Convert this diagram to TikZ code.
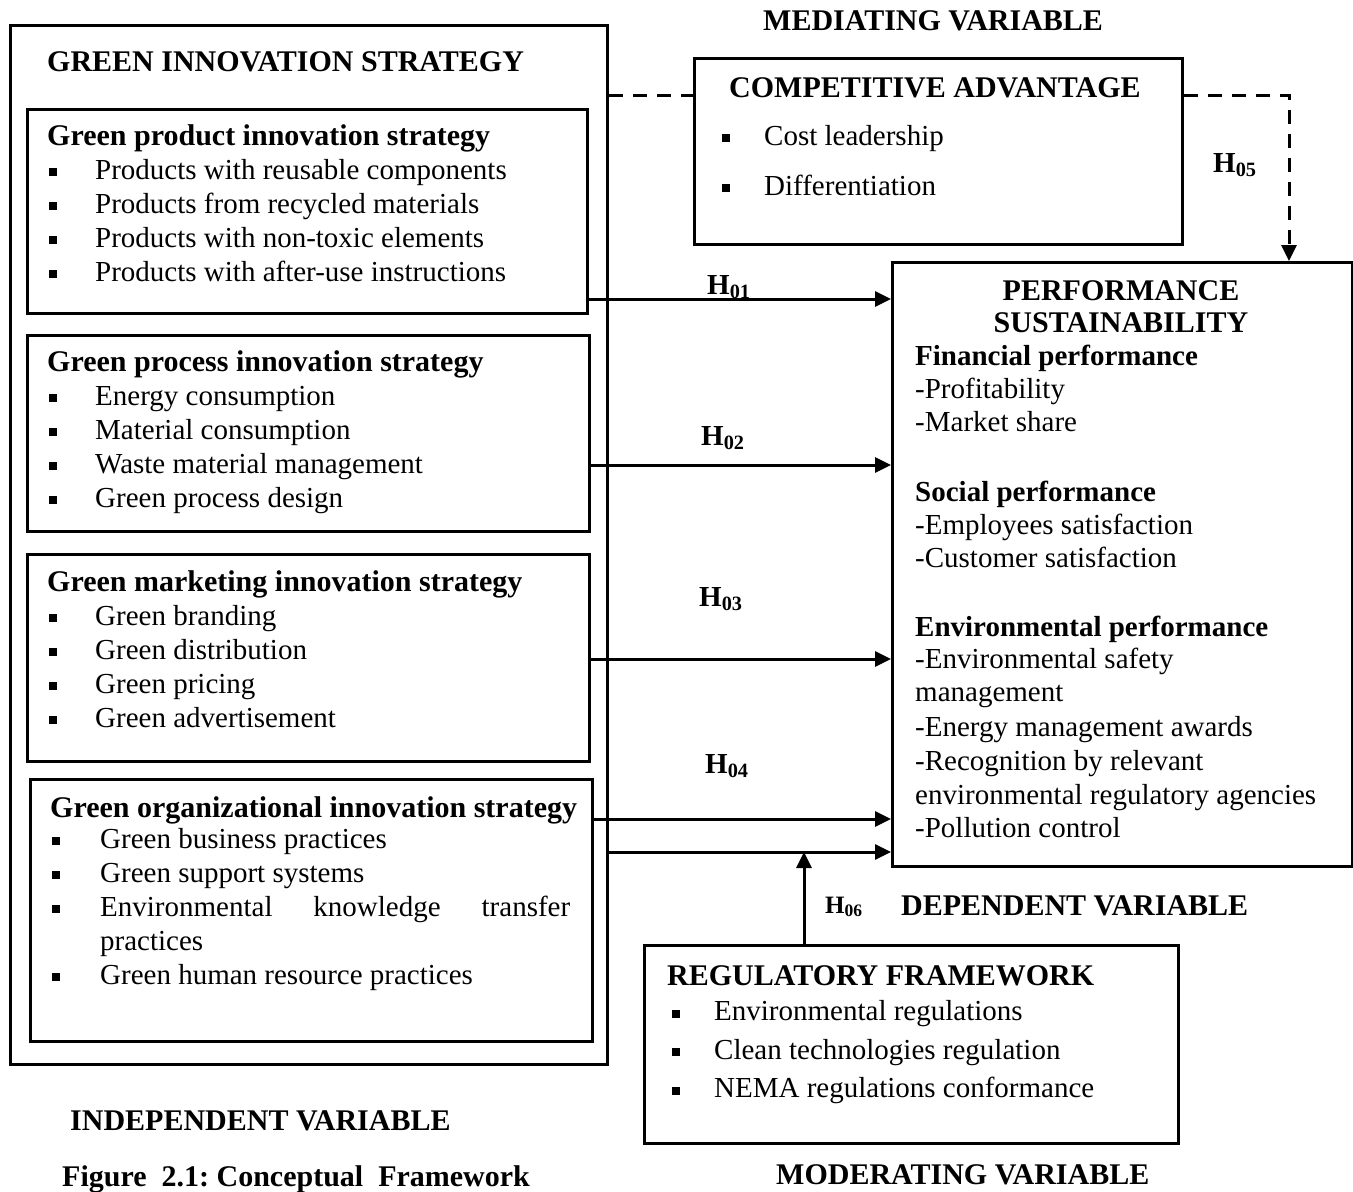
\documentclass[tikz,border=0pt]{standalone}
\usepackage{fontspec}
\setmainfont{Liberation Serif}
\usepackage{tikz}
\usetikzlibrary{positioning,arrows.meta,calc}
\newcommand{\basefont}{\fontsize{29}{34}\selectfont}
\newcommand{\headfont}{\fontsize{30}{34}\selectfont\bfseries}
\newcommand{\sqb}{\rule[3pt]{8pt}{8pt}}
\newcommand{\itm}[2][46pt]{\makebox[#1][l]{\sqb}#2}
\tikzstyle{frame}=[rectangle, draw=black, line width=3pt, inner sep=0pt, anchor=north west]
\tikzstyle{head}=[font=\headfont, anchor=base west, inner sep=0pt]
\tikzstyle{item}=[font=\basefont, anchor=base west, inner sep=0pt]
\tikzstyle{hyp}=[font=\basefont\bfseries, anchor=base west, inner sep=0pt]
\tikzstyle{arrow}=[-{Triangle[length=16pt,width=15pt]}, line width=3pt]
\tikzstyle{dashline}=[line width=3pt, dash pattern=on 14pt off 10pt]

\begin{document}
\begin{tikzpicture}[x=1pt, y=-1pt]
    \useasboundingbox (0,0) rectangle (1353,1192);

    % boxes
    \node[frame, minimum width=597pt, minimum height=1039pt] (gis) at (9,24) {};
    \node[frame, minimum width=560pt, minimum height=204pt] (prod) at (26,108) {};
    \node[frame, minimum width=562pt, minimum height=196pt] (proc) at (26,334) {};
    \node[frame, minimum width=562pt, minimum height=207pt] (mark) at (26,553) {};
    \node[frame, minimum width=562pt, minimum height=262pt] (org) at (29,778) {};
    \node[frame, minimum width=488pt, minimum height=186pt] (comp) at (693,57) {};
    \node[frame, minimum width=460pt, minimum height=604pt] (perf) at (891,261) {};
    \node[frame, minimum width=534pt, minimum height=198pt] (reg) at (643,944) {};

    % headings
    \node[head] (gis-t) at (47,71) {GREEN INNOVATION STRATEGY};
    \node[head] (prod-t) at (47,145) {Green product innovation strategy};
    \node[head] (proc-t) at (47,371) {Green process innovation strategy};
    \node[head] (mark-t) at (47,591) {Green marketing innovation strategy};
    \node[head] (org-t) at (50,817) {Green organizational innovation strategy};
    \node[head] (comp-t) at (729,97) {COMPETITIVE ADVANTAGE};
    \node[head, anchor=base] (perf-t1) at (1121,300) {PERFORMANCE};
    \node[head, anchor=base] (perf-t2) at (1121,332) {SUSTAINABILITY};
    \node[head] (reg-t) at (667,985) {REGULATORY FRAMEWORK};

    % items
    \foreach \t [count=\i] in {Products with reusable components, Products from recycled materials, Products with non-toxic elements, Products with after-use instructions}
        \node[item] (prod-\i) at (49,{145+34*\i}) {\itm{\t}};
    \foreach \t [count=\i] in {Energy consumption, Material consumption, Waste material management, Green process design}
        \node[item] (proc-\i) at (49,{371+34*\i}) {\itm{\t}};
    \foreach \t [count=\i] in {Green branding, Green distribution, Green pricing, Green advertisement}
        \node[item] (mark-\i) at (49,{591+34*\i}) {\itm{\t}};
    \foreach \t [count=\i] in {\itm[48pt]{Green business practices}, \itm[48pt]{Green support systems}, \itm[48pt]{\makebox[470pt][s]{Environmental knowledge transfer}}, \hspace*{48pt}practices, \itm[48pt]{Green human resource practices}}
        \node[item] (org-\i) at (52,{814+34*\i}) {\t};
    \foreach \t [count=\i] in {Cost leadership, Differentiation}
        \node[item] (comp-\i) at (722,{95+50*\i}) {\itm[42pt]{\t}};
    \foreach \t [count=\i] in {Environmental regulations, Clean technologies regulation, NEMA regulations conformance}
        \node[item] (reg-\i) at (672,{982+38.5*\i}) {\itm[42pt]{\t}};
    \foreach \y/\t [count=\i] in {365/\textbf{Financial performance}, 398/-Profitability, 431/-Market share, 501/\textbf{Social performance}, 534/-Employees satisfaction, 567/-Customer satisfaction, 636/\textbf{Environmental performance}, 668/-Environmental safety, 701/management, 736/-Energy management awards, 770/-Recognition by relevant, 804/environmental regulatory agencies, 837/-Pollution control}
        \node[item] (perf-\i) at (915,\y) {\t};

    % variable labels
    \node[head] (mediating) at (763,30) {MEDIATING VARIABLE};
    \node[head] (independent) at (70,1130) {INDEPENDENT VARIABLE};
    \node[head] (dependent) at (901,915) {DEPENDENT VARIABLE};
    \node[head] (moderating) at (776,1184) {MODERATING VARIABLE};
    \node[head] (caption) at (62,1186) {Figure\ \ 2.1:\ Conceptual\ \ Framework};

    % hypotheses
    \node[hyp] (h1) at (707,294) {H\textsubscript{01}};
    \node[hyp] (h2) at (701,445) {H\textsubscript{02}};
    \node[hyp] (h3) at (699,606) {H\textsubscript{03}};
    \node[hyp] (h4) at (705,773) {H\textsubscript{04}};
    \node[hyp] (h5) at (1213,172) {H\textsubscript{05}};
    \node[hyp, font=\fontsize{25}{30}\selectfont\bfseries] (h6) at (825,913) {H\textsubscript{06}};

    % connectors
    \coordinate (y1) at (0,299);
    \coordinate (y2) at (0,465);
    \coordinate (y3) at (0,659);
    \coordinate (y4) at (0,819);
    \coordinate (y5) at (0,852);
    \coordinate (ym) at (0,95);
    \coordinate (dn) at (1289,95);
    \coordinate (up) at (804,852);

    \draw[arrow] (prod.east |- y1) -- (perf.west |- y1);
    \draw[arrow] (proc.east |- y2) -- (perf.west |- y2);
    \draw[arrow] (mark.east |- y3) -- (perf.west |- y3);
    \draw[arrow] (org.east |- y4) -- (perf.west |- y4);
    \draw[arrow] (gis.east |- y5) -- (perf.west |- y5);
    \draw[arrow] (reg.north -| up) -- (up);
    \draw[dashline] (gis.east |- ym) -- (comp.west |- ym);
    \draw[dashline, arrow] (comp.east |- dn) -- (dn) -- (perf.north -| dn);
\end{tikzpicture}
\end{document}
